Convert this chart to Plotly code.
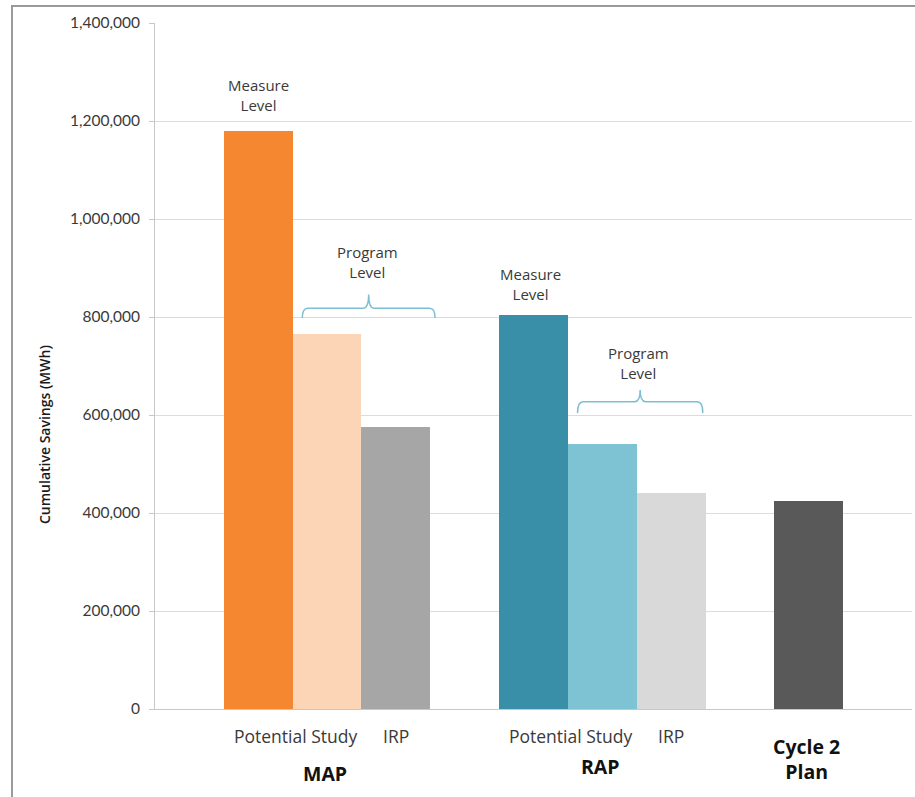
import plotly.graph_objects as go

# ---------------- data ----------------
groups = ["MAP", "RAP", "Cycle 2 Plan"]
map_values = [1180000, 765000, 575000]
rap_values = [805000, 540000, 440000]
cycle2_values = [425000]
sub_labels = ["Potential Study", "IRP"]
y_ticks = [0, 200000, 400000, 600000, 800000, 1000000, 1200000, 1400000]

# ---------------- styles ----------------
map_colors = ["#F58731", "#FBD5B6", "#A6A6A6"]
rap_colors = ["#3A8FA8", "#7EC3D3", "#D9D9D9"]
cycle_colors = ["#595959"]
brace_color = "#7CBFD3"
text_color = "#3A3A3A"
LATO = "Lato, Open Sans, sans-serif"
OPEN = "Open Sans, sans-serif"

group_values = [map_values, rap_values, cycle2_values]
group_colors = [map_colors, rap_colors, cycle_colors]

fig = go.Figure()

# slot-based positions: one empty slot before and between groups
slot = 1
group_slots = []
for vals, cols in zip(group_values, group_colors):
    xs = [slot + i + 0.5 for i in range(len(vals))]
    group_slots.append((slot, xs))
    fig.add_trace(go.Bar(x=xs, y=vals, width=1.0, marker=dict(color=cols, line=dict(width=0)),
                         showlegend=False, hoverinfo="skip"))
    slot += len(vals) + 1
n_slots = slot

annotations = []
shapes = []

def brace(x0, x1, y_line, y_hook, y_tip, dx=0.08):
    xm = (x0 + x1) / 2
    return (f"M {x0},{y_hook} Q {x0},{y_line} {x0+dx},{y_line} "
            f"L {xm-dx},{y_line} Q {xm},{y_line} {xm},{y_tip} "
            f"Q {xm},{y_line} {xm+dx},{y_line} L {x1-dx},{y_line} "
            f"Q {x1},{y_line} {x1},{y_hook}")

# level annotations + braces for MAP and RAP
level_y = {
    0: dict(measure=1253000, program=912000, line=818000, hook=798000, tip=846000),
    1: dict(measure=868000, program=707000, line=627000, hook=604000, tip=651000),
}
for gi in (0, 1):
    start, xs = group_slots[gi]
    ly = level_y[gi]
    annotations.append(dict(x=xs[0] - (0.05 if gi else 0), y=ly["measure"], xref="x", yref="y",
                            text="Measure<br>Level", showarrow=False, yanchor="middle",
                            font=dict(family=OPEN, size=15, color=text_color)))
    bx0, bx1 = start + 1 + 0.14, start + 3 + (0.07 if gi == 0 else -0.04)
    annotations.append(dict(x=(bx0 + bx1) / 2 - 0.02, y=ly["program"], xref="x", yref="y",
                            text="Program<br>Level", showarrow=False, yanchor="middle",
                            font=dict(family=OPEN, size=15, color=text_color)))
    shapes.append(dict(type="path", xref="x", yref="y",
                       path=brace(bx0, bx1, ly["line"], ly["hook"], ly["tip"]),
                       line=dict(color=brace_color, width=1.5)))

# category labels below axis
for gi in (0, 1):
    start, xs = group_slots[gi]
    annotations.append(dict(x=start + 1.04, y=-0.0394, xref="x", yref="paper",
                            text=sub_labels[0], showarrow=False, yanchor="middle", xanchor="center",
                            font=dict(family=OPEN, size=17.5, color=text_color)))
    annotations.append(dict(x=xs[2], y=-0.0394, xref="x", yref="paper",
                            text=sub_labels[1], showarrow=False, yanchor="middle", xanchor="center",
                            font=dict(family=OPEN, size=17.5, color=text_color)))

group_label_y = [-0.0933, -0.0845, -0.0736]
for gi, name in enumerate(groups):
    start, xs = group_slots[gi]
    cx = sum(xs) / len(xs)
    txt = "Cycle 2<br>Plan" if name == "Cycle 2 Plan" else name
    annotations.append(dict(x=cx - 0.03, y=group_label_y[gi], xref="x", yref="paper",
                            text=f"<b>{txt}</b>", showarrow=False, yanchor="middle", xanchor="center",
                            font=dict(family=OPEN, size=19.5, color="#111111")))

# y-axis title
annotations.append(dict(x=-0.1466, y=0.3994, xref="paper", yref="paper",
                        text="Cumulative Savings (MWh)", textangle=-90, showarrow=False,
                        xanchor="center", yanchor="middle",
                        font=dict(family=OPEN, size=14, color="#1a1a1a", weight=600)))

# outer frame (left + top)
shapes.append(dict(type="rect", xref="paper", yref="paper",
                   x0=(12 - 155) / 757, x1=1.02, y0=-0.2, y1=(709 - 6) / 686,
                   line=dict(color="#9A9A9A", width=2), fillcolor="rgba(0,0,0,0)", layer="below"))

fig.update_layout(
    width=915, height=797,
    margin=dict(l=155, r=3, t=23, b=88),
    paper_bgcolor="white", plot_bgcolor="white",
    bargap=0, barmode="overlay",
    annotations=annotations, shapes=shapes,
    xaxis=dict(range=[0, n_slots], showticklabels=False, showgrid=False, zeroline=False,
               showline=True, linecolor="#C8C8C8", linewidth=1, ticks="", fixedrange=True),
    yaxis=dict(range=[0, 1400000], tickvals=y_ticks,
               ticktext=[f"{v:,}" for v in y_ticks],
               showgrid=True, gridcolor="#DCDCDC", gridwidth=1,
               zeroline=False, showline=True, linecolor="#C8C8C8", linewidth=1,
               ticks="outside", ticklen=5, tickcolor="#C8C8C8", ticklabelstandoff=6,
               tickfont=dict(family=LATO, size=15.5, color=text_color)),
)

fig.write_html("out.html")
